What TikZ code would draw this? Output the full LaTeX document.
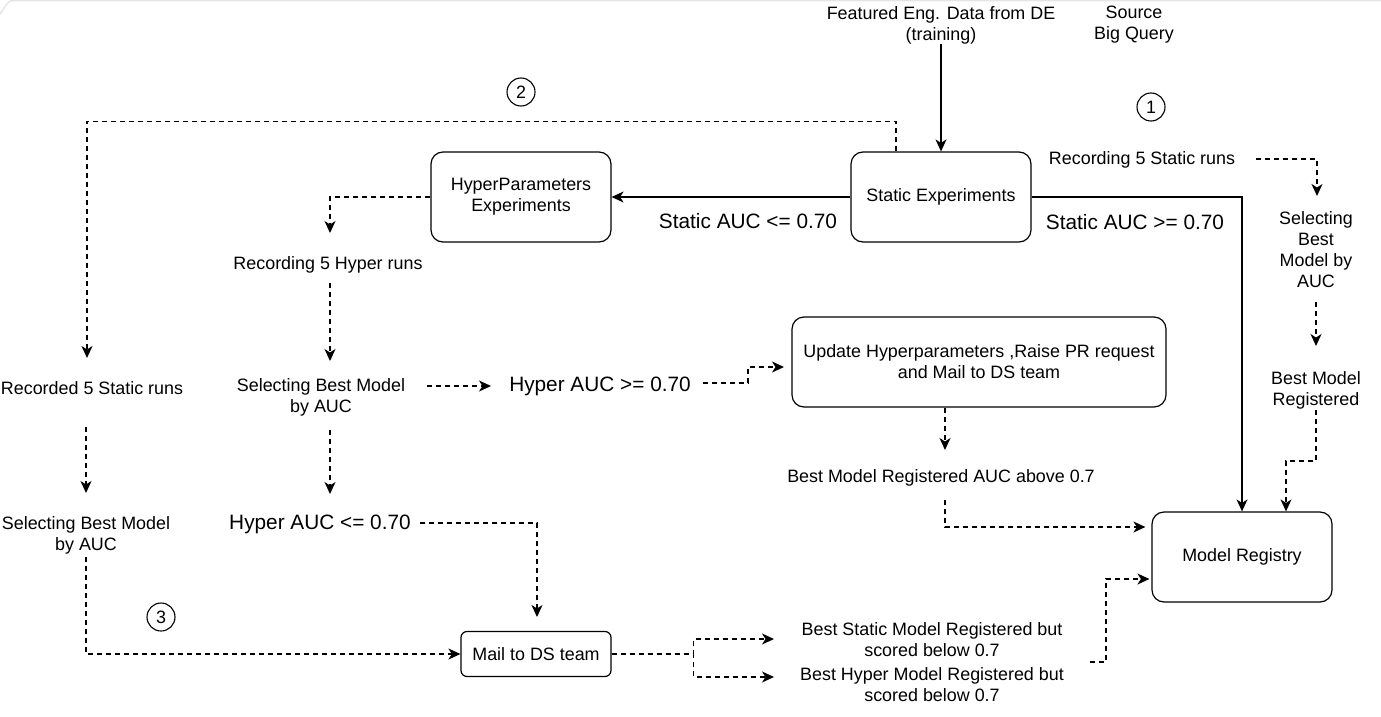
\documentclass[tikz,border=0pt]{standalone}
\usepackage{fontspec}
\setmainfont{Liberation Sans}
\usetikzlibrary{arrows.meta}
\newcommand{\myfs}{\fontsize{17.9}{21}\selectfont}
\newcommand{\myfb}{\fontsize{20.8}{24}\selectfont}
\begin{document}
\begin{tikzpicture}[x=1pt,y=-1pt,
  box/.style={draw, rounded corners=12pt, line width=1.2pt, minimum width=180pt, minimum height=90pt, align=center, font=\myfs, inner sep=2pt},
  txt/.style={align=center, inner sep=0pt, font=\myfs, yshift=-2pt},
  bigtxt/.style={inner sep=0pt, font=\myfb, yshift=-1.5pt},
  num/.style={draw, circle, minimum size=28pt, inner sep=0pt, font=\myfs, line width=1.1pt},
  sarrow/.style={draw, line width=1.4pt, -{Stealth[length=12pt,width=11pt,inset=3.5pt]}},
  darrow/.style={sarrow, dash pattern=on 5pt off 4pt},
  frame/.style={draw=black!10, line width=1.5pt}]
\useasboundingbox (0,0) rectangle (1381,717);
\draw[frame] (0,12) to[out=-90,in=180] (12,0.75) -- (1381,0.75);

% boxes
\node[box] (static) at (941,197) {Static Experiments};
\node[box] (hyper) at (521,197) {HyperParameters\\Experiments};
\node[box, minimum width=374pt] (update) at (979,362) {Update Hyperparameters ,Raise PR request\\and Mail to DS team};
\node[box] (registry) at (1242,557) {Model Registry};
\node[box, rounded corners=6pt, minimum width=150pt, minimum height=45pt] (mail) at (536,654) {Mail to DS team};

% texts
\node[txt] (data) at (941,23) {Featured Eng. Data from DE\\(training)};
\node[txt] (source) at (1134,23) {Source\\Big Query};
\node[num] (n1) at (1151,107) {1};
\node[num] (n2) at (521,92) {2};
\node[num] (n3) at (161,617) {3};
\node[txt] (recstatic) at (1142,158) {Recording 5 Static runs};
\node[bigtxt] (sge) at (1135,221) {Static AUC >= 0.70};
\node[bigtxt] (sle) at (748,220) {Static AUC <= 0.70};
\node[txt] (selR) at (1316,248) {Selecting\\Best\\Model by\\AUC};
\node[txt] (bestR) at (1316,388) {Best Model\\Registered};
\node[txt] (rechyper) at (328,263) {Recording 5 Hyper runs};
\node[txt] (recorded) at (92,386) {Recorded 5 Static runs};
\node[txt] (selM) at (321,395) {Selecting Best Model\\by AUC};
\node[bigtxt] (hge) at (600,385) {Hyper AUC >= 0.70};
\node[txt] (bestabove) at (941,476) {Best Model Registered AUC above 0.7};
\node[txt] (selL) at (86,533) {Selecting Best Model\\by AUC};
\node[bigtxt] (hle) at (320,523) {Hyper AUC <= 0.70};
\node[txt] (bss) at (932,638) {Best Static Model Registered but\\scored below 0.7};
\node[txt] (bhs) at (932,683) {Best Hyper Model Registered but\\scored below 0.7};

% free ends
\coordinate (c4) at (87,358);
\coordinate (c5) at (330,233);
\coordinate (c6a) at (330,283);
\coordinate (c6b) at (330,361);
\coordinate (c7a) at (427,386);
\coordinate (c7b) at (491,386);
\coordinate (c8a) at (703,383);
\coordinate (c8b) at (784,367);
\coordinate (c9a) at (86,427);
\coordinate (c9b) at (86,493);
\coordinate (c9c) at (330,430);
\coordinate (c9d) at (330,494);
\coordinate (c10a) at (420,523);
\coordinate (c10b) at (537,617);
\coordinate (c11) at (86,557);
\coordinate (c12a) at (774,639);
\coordinate (c12b) at (774,677);
\coordinate (c13) at (1090,662);
\coordinate (c14) at (945,500);
\coordinate (c15) at (945,450);
\coordinate (c16a) at (1256,159);
\coordinate (c16b) at (1317,196);
\coordinate (c17a) at (1316,302);
\coordinate (c17b) at (1316,346);
\coordinate (c18) at (1316,410);

% solid connectors
\draw[sarrow] (data.south) -- (static.north);
\draw[sarrow] (static.west) -- (hyper.east);
\draw[sarrow] (static.east) -| (registry.north);

% dashed connectors
\draw[darrow] ([xshift=-45pt]static.north) -- ++(0,-30) -| (c4);
\draw[darrow] (hyper.west) -| (c5);
\draw[darrow] (c6a) -- (c6b);
\draw[darrow] (c7a) -- (c7b);
\draw[darrow] (c8a) -- ++(45,0) |- (c8b);
\draw[darrow] (c9a) -- (c9b);
\draw[darrow] (c9c) -- (c9d);
\draw[darrow] (c10a) -| (c10b);
\draw[darrow] (c11) |- (mail.west);
\draw[darrow] (mail.east) -- ++(82,0) |- (c12a);
\draw[darrow] (mail.east) -- ++(82,0) |- (c12b);
\draw[darrow, shorten >=2pt] (c13) -- ++(16,0) |- ([yshift=-22pt]registry.west);
\draw[darrow, shorten >=6pt] (c14) |- ([yshift=30pt]registry.west);
\draw[darrow] ([xshift=-34pt]update.south) -- (c15);
\draw[darrow] (c16a) -| (c16b);
\draw[darrow] (c17a) -- (c17b);
\draw[darrow] (c18) -- ++(0,51) -| ([xshift=44pt]registry.north);
\end{tikzpicture}
\end{document}
